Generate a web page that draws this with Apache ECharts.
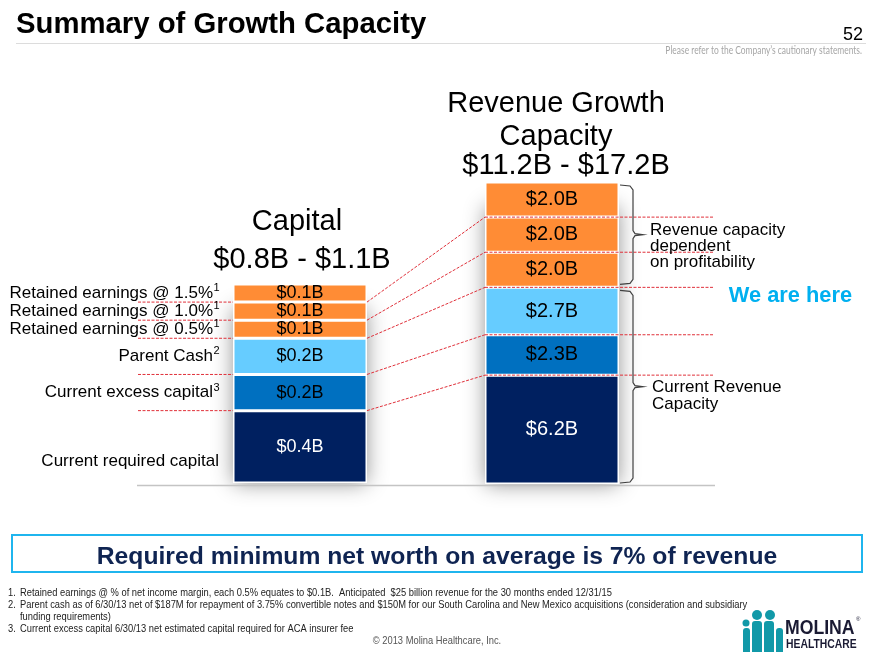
<!DOCTYPE html>
<html>
<head>
<meta charset="utf-8">
<script src="https://cdn.jsdelivr.net/npm/echarts@6/dist/echarts.min.js"></script>
<style>html,body{margin:0;padding:0;background:#fff}#c{width:880px;height:660px}</style>
</head>
<body>
<div id="c"></div>
<script>
// ---------------- data ----------------
const capitalCategories = ['Current required capital', 'Current excess capital', 'Parent Cash',
  'Retained earnings @ 0.5%', 'Retained earnings @ 1.0%', 'Retained earnings @ 1.5%'];
const capitalSuperscripts = ['', '3', '2', '1', '1', '1'];
const capitalValues = [0.4, 0.2, 0.2, 0.1, 0.1, 0.1];
const revenueValues = [6.2, 2.3, 2.7, 2.0, 2.0, 2.0];
const capitalRange = ['$0.8B', '$1.1B'];
const revenueRange = ['$11.2B', '$17.2B'];
const footnotes = [
  ['1.', 'Retained earnings @ % of net income margin, each 0.5% equates to $0.1B.  Anticipated  $25 billion revenue for the 30 months ended 12/31/15'],
  ['2.', 'Parent cash as of 6/30/13 net of $187M for repayment of 3.75% convertible notes and $150M for our South Carolina and New Mexico acquisitions (consideration and subsidiary'],
  ['', 'funding requirements)'],
  ['3.', 'Current excess capital 6/30/13 net estimated capital required for ACA insurer fee']
];

// ---------------- style ----------------
const segColors = ['#002060', '#0070C0', '#66CCFF', '#FF8C35', '#FF8C35', '#FF8C35'];
const segLabelColors = ['#ffffff', '#000000', '#000000', '#000000', '#000000', '#000000'];
const FONT = 'Liberation Sans, Arial, sans-serif';
const gridCap = { left: 233, top: 284, width: 134, height: 199 };
const gridRev = { left: 485, top: 182, width: 134, height: 302 };
const capMax = capitalValues.reduce((a, b) => a + b, 0);
const revMax = revenueValues.reduce((a, b) => a + b, 0);

const chart = echarts.init(document.getElementById('c'), null, { renderer: 'canvas' });

const series = [];
capitalValues.forEach((v, i) => {
  series.push({
    type: 'bar', xAxisIndex: 0, yAxisIndex: 0, stack: 'cap', barWidth: '100%', z: 3,
    data: [v],
    itemStyle: { color: segColors[i], borderColor: '#ffffff', borderWidth: 1.5 },
    label: { show: true, position: 'inside', formatter: p => '$' + p.value.toFixed(1) + 'B',
      color: segLabelColors[i], fontSize: 18, fontFamily: FONT }
  });
});
revenueValues.forEach((v, i) => {
  series.push({
    type: 'bar', xAxisIndex: 1, yAxisIndex: 1, stack: 'rev', barWidth: '100%', z: 3,
    data: [v],
    itemStyle: { color: segColors[i], borderColor: '#ffffff', borderWidth: 1.5 },
    label: { show: true, position: 'inside', formatter: p => '$' + p.value.toFixed(1) + 'B',
      color: segLabelColors[i], fontSize: 20, fontFamily: FONT }
  });
});

chart.setOption({
  animation: false,
  backgroundColor: '#ffffff',
  grid: [
    { left: gridCap.left, top: gridCap.top, width: gridCap.width, height: gridCap.height },
    { left: gridRev.left, top: gridRev.top, width: gridRev.width, height: gridRev.height }
  ],
  xAxis: [
    { gridIndex: 0, type: 'category', data: ['Capital'], show: false },
    { gridIndex: 1, type: 'category', data: ['Revenue'], show: false }
  ],
  yAxis: [
    { gridIndex: 0, type: 'value', min: 0, max: capMax, show: false },
    { gridIndex: 1, type: 'value', min: 0, max: revMax, show: false }
  ],
  series: series
});

// ---------------- overlay graphics computed via the axes ----------------
function T(text, x, y, o) {
  o = o || {};
  return {
    type: 'text', x: x, y: y, z: o.z || 20, silent: true,
    scaleX: o.sx || 1,
    style: {
      text: text, fill: o.color || '#000', fontSize: o.size || 16,
      fontFamily: o.family || FONT, fontWeight: o.weight || 'normal',
      textAlign: o.align || 'left', align: o.align || 'left',
      textVerticalAlign: 'middle', verticalAlign: 'middle'
    }
  };
}
function L(x1, y1, x2, y2, color, w, dash, z) {
  return { type: 'line', z: z || 15, silent: true, shape: { x1, y1, x2, y2 },
    style: { stroke: color, lineWidth: w || 1, lineDash: dash || null } };
}
const yCap = v => chart.convertToPixel({ yAxisIndex: 0 }, v);
const yRev = v => chart.convertToPixel({ yAxisIndex: 1 }, v);

const g = [];
// title & header
g.push(T('Summary of Growth Capacity', 16, 25, { size: 29.3, weight: 'bold' }));
g.push(L(16, 43.5, 866, 43.5, '#DCDCDC', 1));
g.push(T('52', 863, 35, { size: 18, align: 'right' }));
g.push(T('Please refer to the Company\u2019s cautionary statements.', 862, 51, { size: 10.8, color: '#A6A6A6', family: 'Lato, Open Sans, sans-serif', align: 'right', sx: 0.78 }));

// headings
g.push(T('Revenue Growth', 556, 104, { size: 29, align: 'center' }));
g.push(T('Capacity', 556, 137, { size: 29, align: 'center' }));
g.push(T(revenueRange[0] + ' - ' + revenueRange[1], 566, 166, { size: 29, align: 'center' }));
g.push(T('Capital', 297, 222, { size: 29, align: 'center' }));
g.push(T(capitalRange[0] + ' - ' + capitalRange[1], 302, 260, { size: 29, align: 'center' }));

// shadows behind bars
const capTop = yCap(capMax), capBot = yCap(0), revTop = yRev(revMax), revBot = yRev(0);
[[gridCap.left, capTop, gridCap.width, capBot - capTop], [gridRev.left, revTop, gridRev.width, revBot - revTop]].forEach(r => {
  g.push({ type: 'rect', z: 1, silent: true, shape: { x: r[0] + 1, y: r[1] + 25, width: r[2] - 2, height: r[3] - 25 },
    style: { fill: '#ffffff', shadowBlur: 20, shadowColor: 'rgba(0,0,0,0.45)', shadowOffsetX: 0, shadowOffsetY: 0 } });
});
// baseline
g.push(L(137, 485.5, 715, 485.5, '#C4C4C4', 1.5, null, 2));

// left labels and dashed connector lines
let cumC = 0, cumR = 0;
const RED = '#E0303A';
capitalValues.forEach((v, i) => {
  const yMid = yCap(cumC + v / 2);
  const yl = i === 0 ? yMid + 14 : yMid;
  const txt = capitalCategories[i];
  const sup = capitalSuperscripts[i];
  const xr = sup ? 213 : 219;
  g.push(T(txt, xr, yl, { size: 17, align: 'right' }));
  if (sup) g.push(T(sup, xr + 0.5, yl - 5, { size: 11 }));
  cumC += v; cumR += revenueValues[i];
  if (i < capitalValues.length - 1) {
    const y1 = yCap(cumC), y2 = yRev(cumR);
    g.push(L(138, y1, gridCap.left, y1, RED, 1, [3, 1.5]));
    g.push(L(gridCap.left + gridCap.width, y1, gridRev.left, y2, RED, 1, [3, 1.5]));
    g.push(L(gridRev.left, y2, 713, y2, RED, 1, [3, 1.5]));
  }
});

// brackets
function bracket(top, bot) {
  const mid = (top + bot) / 2, x0 = 620, x1 = 633, xt = 643;
  return { type: 'polyline', z: 15, silent: true,
    shape: { points: [[x0, top], [x1 - 3, top + 1], [x1, top + 5], [x1, mid - 4], [x1 + 2, mid - 1], [xt, mid], [x1 + 2, mid + 1], [x1, mid + 4], [x1, bot - 5], [x1 - 3, bot - 1], [x0, bot]] },
    style: { stroke: '#404040', lineWidth: 1.2, fill: null } };
}
const cur = revenueValues[0] + revenueValues[1] + revenueValues[2];
g.push(bracket(revTop + 3, yRev(cur) - 3));
g.push(bracket(yRev(cur) + 3, revBot - 1));
g.push(T('Revenue capacity', 650, 230, { size: 17 }));
g.push(T('dependent', 650, 246, { size: 17 }));
g.push(T('on profitability', 650, 262, { size: 17 }));
g.push(T('We are here', 852, 296, { size: 21.8, weight: 'bold', color: '#00B0F0', align: 'right' }));
g.push(T('Current Revenue', 652, 387, { size: 17 }));
g.push(T('Capacity', 652, 404, { size: 17 }));

// bottom box
g.push({ type: 'rect', z: 10, silent: true, shape: { x: 12, y: 535, width: 850, height: 37 },
  style: { fill: '#ffffff', stroke: '#1FB5EE', lineWidth: 2 } });
g.push(T('Required minimum net worth on average is 7% of revenue', 437, 557, { size: 24.7, weight: 'bold', color: '#0F2452', align: 'center' }));

// footnotes
footnotes.forEach((f, i) => {
  const y = 593 + i * 12;
  if (f[0]) g.push(T(f[0], 8, y, { size: 10.5, color: '#222', sx: 0.89 }));
  g.push(T(f[1], 20, y, { size: 10.5, color: '#222', sx: 0.89 }));
});
g.push(T('\u00A9 2013 Molina Healthcare, Inc.', 437, 641, { size: 10.5, color: '#555', align: 'center', sx: 0.89 }));

// logo
const TEAL = '#1199A8';
[[746, 623, 3.5], [757, 615, 5], [770, 615, 5]].forEach(c => g.push({ type: 'circle', z: 20, silent: true, shape: { cx: c[0], cy: c[1], r: c[2] }, style: { fill: TEAL } }));
[[743, 628, 7, 24], [752, 621, 10, 31], [764, 621, 10, 31], [776, 628, 7, 24]].forEach(r => g.push({ type: 'rect', z: 20, silent: true, shape: { x: r[0], y: r[1], width: r[2], height: r[3], r: [3, 3, 0, 0] }, style: { fill: TEAL } }));
g.push(T('MOLINA', 785, 628, { size: 21, weight: 'bold', color: '#1a1a33', sx: 0.84 }));
g.push(T('HEALTHCARE', 786, 645, { size: 12.5, weight: 'bold', color: '#1a1a33', sx: 0.83 }));
g.push(T('\u00AE', 856, 619, { size: 6, color: '#1a1a33' }));

chart.setOption({ graphic: { elements: g } });
</script>
</body>
</html>
